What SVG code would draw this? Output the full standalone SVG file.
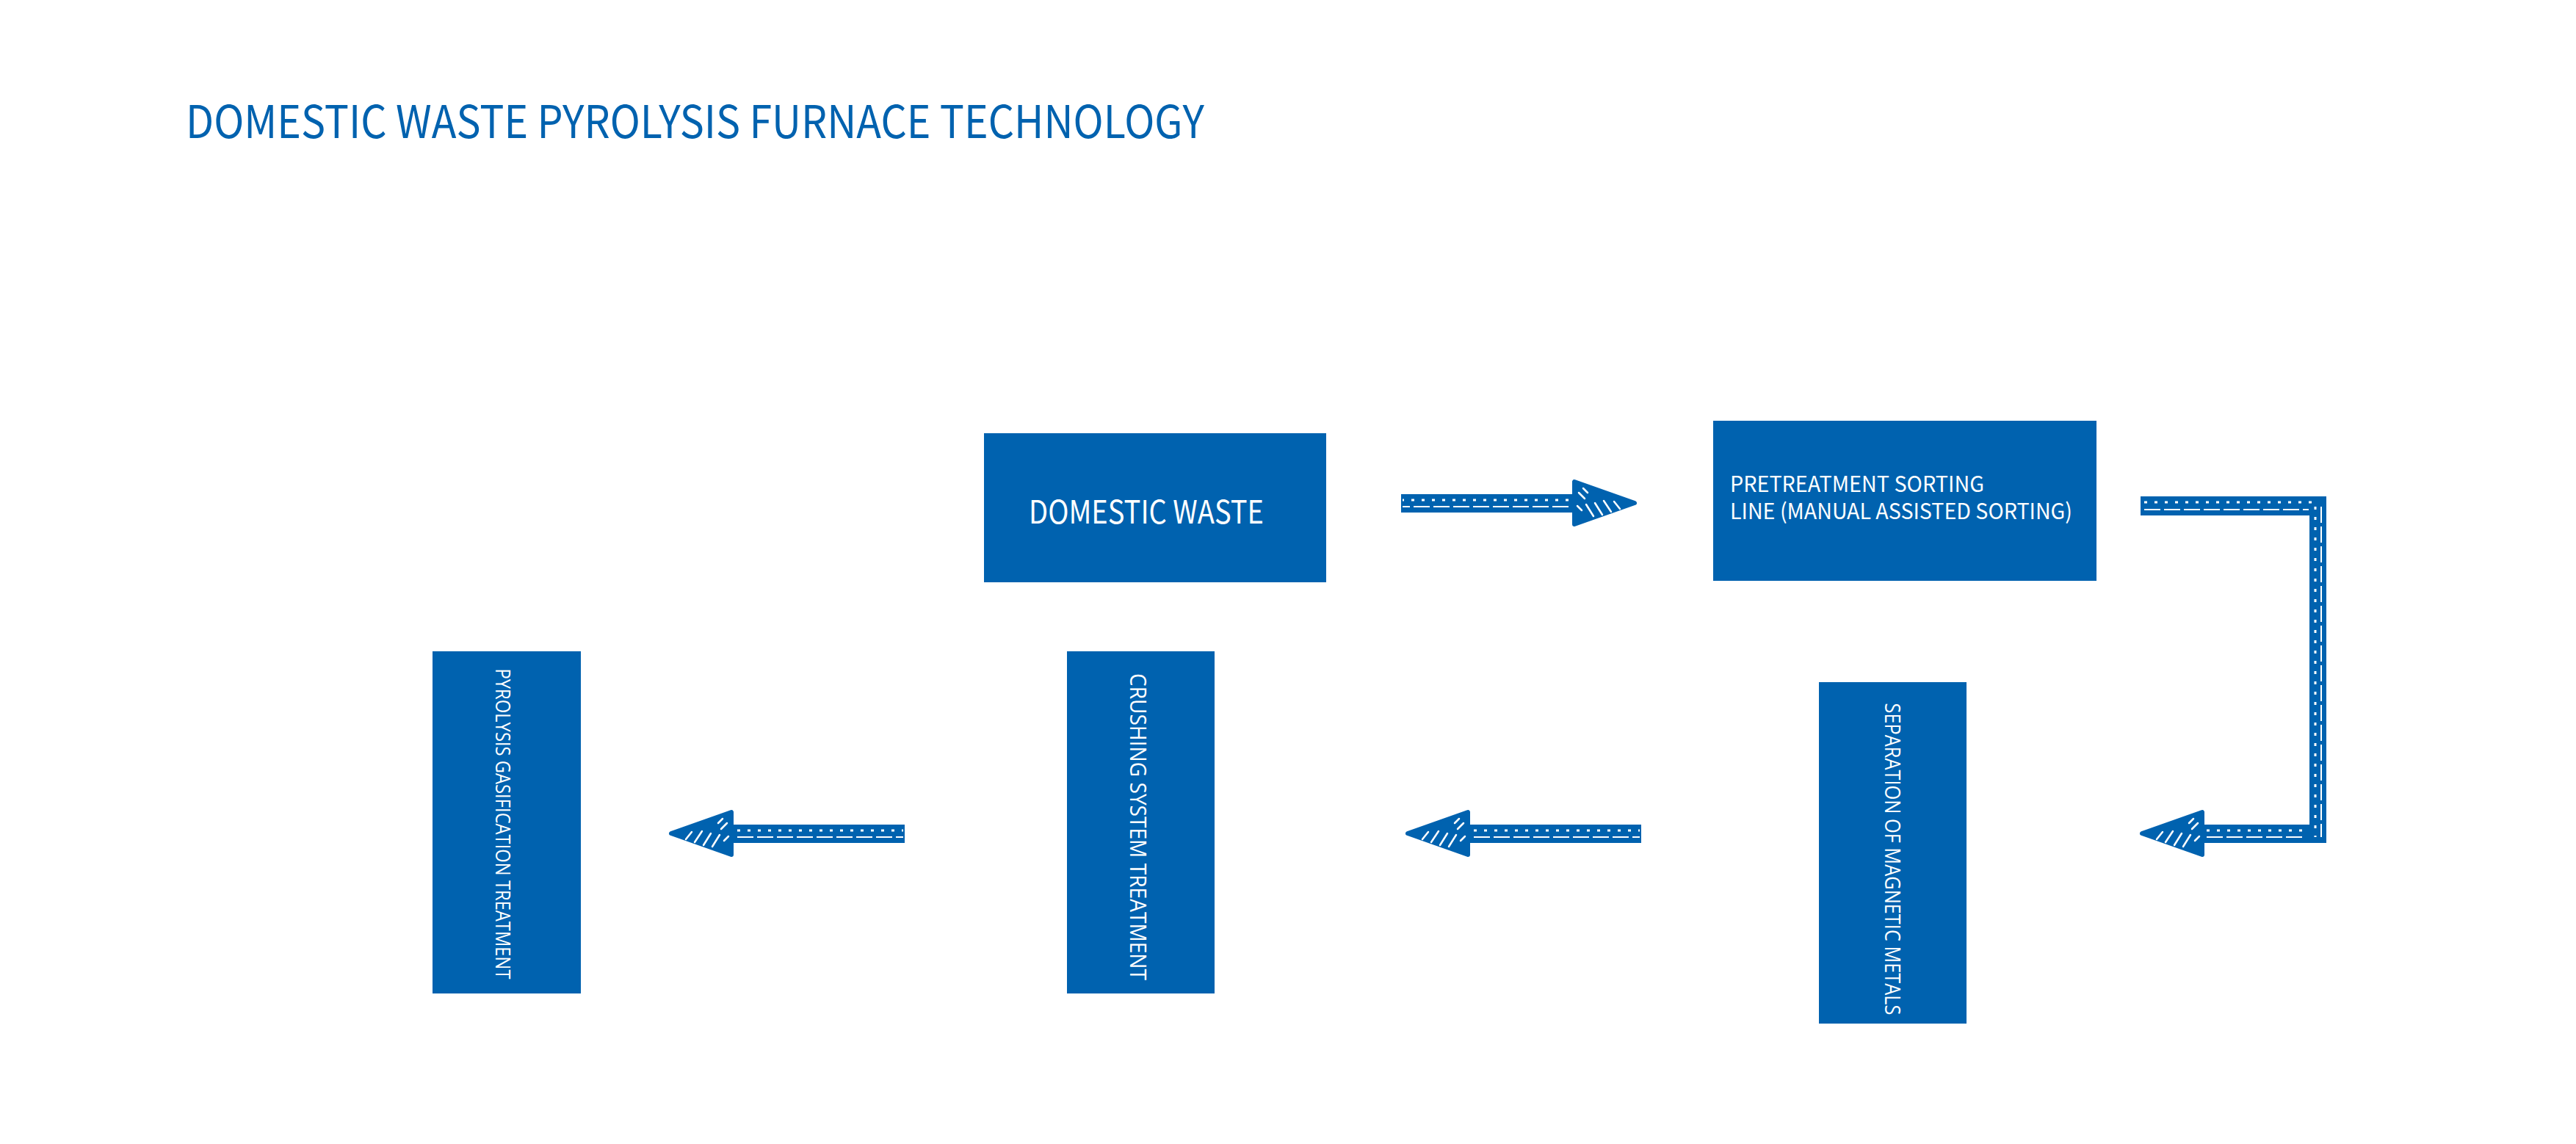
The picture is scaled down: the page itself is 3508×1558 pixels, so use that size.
<svg xmlns="http://www.w3.org/2000/svg" xmlns:xlink="http://www.w3.org/1999/xlink" width="3508" height="1558" viewBox="0 0 3508 1558">
<style>
.box{fill:#0062AF}
.t{fill:#ffffff;font-family:"Noto Sans CJK SC","Source Sans Pro","Liberation Sans",sans-serif}
.tv{fill:#ffffff;font-family:"Open Sans","Noto Sans","Liberation Sans",sans-serif}
.title{fill:#0062AF;font-family:"Noto Sans CJK SC","Source Sans Pro","Liberation Sans",sans-serif}
.ab{fill:#0062AF}
.hd{fill:#0062AF;stroke:#0062AF;stroke-width:6;stroke-linejoin:round}
.dot{stroke:#ffffff;stroke-width:3;stroke-dasharray:4 10;fill:none}
.saw{stroke:#ffffff;stroke-width:2;stroke-dasharray:22 5;fill:none}
.hat{stroke:#ffffff;stroke-width:2.5;stroke-linecap:round;fill:none}
</style>
<defs>
<g id="arrowL">
<rect class="ab" x="84" y="-12" width="236" height="25"/>
<line class="dot" x1="92" y1="-4" x2="318" y2="-4"/>
<line class="saw" x1="92" y1="5" x2="318" y2="5"/>
<polygon class="hd" points="2,0 84,-29 84,29"/>
<path class="hat" d="M22,8 L30,-2 M34,12 L44,-3 M46,16 L56,0 M58,18 L68,2 M66,-14 L72,-20 M70,-6 L78,-14 M74,10 L80,4"/>
</g>
</defs>
<text class="title" x="253" y="188" font-size="62" textLength="1387" lengthAdjust="spacingAndGlyphs">DOMESTIC WASTE PYROLYSIS FURNACE TECHNOLOGY</text>
<g id="node-domestic-waste">
<rect class="box" x="1340" y="590" width="466" height="203"/>
<text class="t" x="1401" y="713" font-size="44" textLength="320" lengthAdjust="spacingAndGlyphs">DOMESTIC WASTE</text>
</g>
<g id="node-pretreatment">
<rect class="box" x="2333" y="573" width="522" height="218"/>
<text class="t" x="2356" y="670" font-size="30" textLength="346" lengthAdjust="spacingAndGlyphs">PRETREATMENT SORTING</text>
<text class="t" x="2356" y="707" font-size="30" textLength="466" lengthAdjust="spacingAndGlyphs">LINE (MANUAL ASSISTED SORTING)</text>
</g>
<g id="node-separation">
<rect class="box" x="2477" y="929" width="201" height="465"/>
<text class="tv" transform="translate(2567,1170) rotate(90)" text-anchor="middle" font-size="29" textLength="425" lengthAdjust="spacingAndGlyphs">SEPARATION OF MAGNETIC METALS</text>
</g>
<g id="node-crushing">
<rect class="box" x="1453" y="887" width="201" height="466"/>
<text class="tv" transform="translate(1539,1126) rotate(90)" text-anchor="middle" font-size="31" textLength="418" lengthAdjust="spacingAndGlyphs">CRUSHING SYSTEM TREATMENT</text>
</g>
<g id="node-pyrolysis">
<rect class="box" x="589" y="887" width="202" height="466"/>
<text class="tv" transform="translate(675,1122) rotate(90)" text-anchor="middle" font-size="28" textLength="423" lengthAdjust="spacingAndGlyphs">PYROLYSIS GASIFICATION TREATMENT</text>
</g>
<g id="connectors">
<use xlink:href="#arrowL" href="#arrowL" transform="translate(2228,685) scale(-1,1)"/>
<g id="elbow">
<rect class="ab" x="2915" y="676" width="253" height="26"/>
<rect class="ab" x="3145" y="676" width="23" height="472"/>
<rect class="ab" x="2999" y="1123" width="169" height="25"/>
<line class="dot" x1="2920" y1="684" x2="3150" y2="684"/>
<line class="saw" x1="2920" y1="694" x2="3144" y2="694"/>
<line class="dot" x1="3153" y1="690" x2="3153" y2="1140"/>
<line class="saw" x1="3161" y1="690" x2="3161" y2="1140"/>
<line class="dot" x1="3005" y1="1131" x2="3140" y2="1131"/>
<line class="saw" x1="3005" y1="1140" x2="3140" y2="1140"/>
<polygon class="hd" points="2917,1135 2999,1106 2999,1164"/>
<path class="hat" transform="translate(2915,1135)" d="M22,8 L30,-2 M34,12 L44,-3 M46,16 L56,0 M58,18 L68,2 M66,-14 L72,-20 M70,-6 L78,-14 M74,10 L80,4"/>
</g>
<use xlink:href="#arrowL" href="#arrowL" transform="translate(1915,1135)"/>
<use xlink:href="#arrowL" href="#arrowL" transform="translate(912,1135)"/>
</g>
</svg>
